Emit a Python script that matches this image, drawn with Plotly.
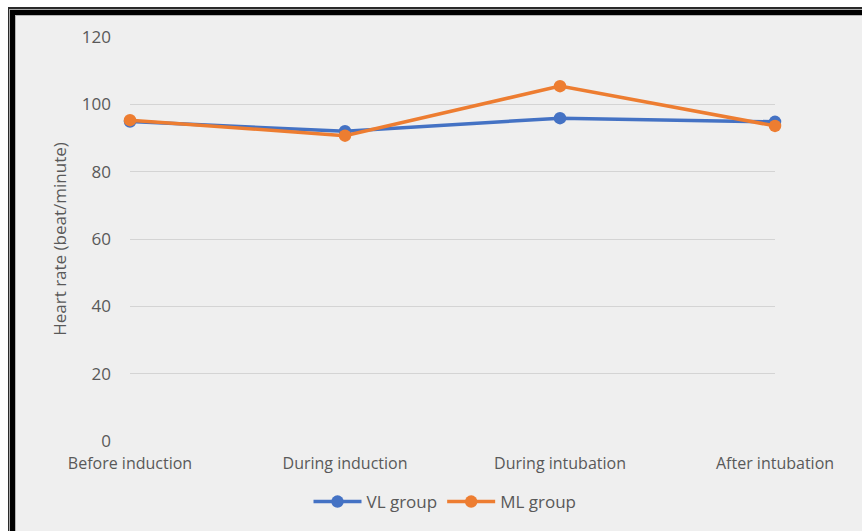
import plotly.graph_objects as go

categories = ["Before induction", "During induction", "During intubation", "After intubation"]
vl_group = [94.9, 92.0, 95.9, 94.8]
ml_group = [95.3, 90.7, 105.4, 93.6]
y_ticks = [0, 20, 40, 60, 80, 100, 120]

W, H = 862, 531
ML, MR, MT, MB = 130, 87, 37, 89
PW, PH = W - ML - MR, H - MT - MB


def px(x):
    return (x - ML) / PW


def py(y):
    return (H - MB - y) / PH


BLUE = "#4472C4"
ORANGE = "#ED7D31"
TXT = "#595959"

fig = go.Figure()
fig.add_trace(go.Scatter(
    x=categories, y=vl_group, name="VL group", mode="lines+markers",
    line=dict(color=BLUE, width=3.5), marker=dict(size=12.5, color=BLUE),
    cliponaxis=False,
))
fig.add_trace(go.Scatter(
    x=categories, y=ml_group, name="ML group", mode="lines+markers",
    line=dict(color=ORANGE, width=3.5), marker=dict(size=12.5, color=ORANGE),
    cliponaxis=False,
))

frame = [
    (8, 7, "#2a2a2a"),
    (9, 9, "#a8a8a8"),
    (10, 10, "#000000"),
    (15, 15, "#b5b5b5"),
    (16, 16, "#efefef"),
]
shapes = []
for x0, y0, col in frame:
    shapes.append(dict(
        type="rect", xref="paper", yref="paper", layer="below",
        x0=px(x0), x1=px(W + 20), y0=py(H + 20), y1=py(y0),
        fillcolor=col, line=dict(width=0),
    ))

fig.update_layout(
    width=W, height=H,
    margin=dict(l=ML, r=MR, t=MT, b=MB),
    paper_bgcolor="white",
    plot_bgcolor="rgba(0,0,0,0)",
    shapes=shapes,
    font=dict(family="Open Sans", color=TXT),
    showlegend=True,
    legend=dict(
        orientation="h", x=px(445), y=py(502), xanchor="center", yanchor="middle",
        font=dict(size=17, color=TXT, family="Open Sans"),
        bgcolor="rgba(0,0,0,0)", itemwidth=48, tracegroupgap=0,
    ),
    xaxis=dict(
        type="category", range=[0, 3], showgrid=False, zeroline=False,
        showline=False, ticks="", tickfont=dict(size=16, color=TXT),
        ticklabelstandoff=11, fixedrange=True,
    ),
    yaxis=dict(
        range=[0, 120], tickvals=y_ticks, showgrid=True, gridcolor="#d4d4d4",
        gridwidth=1, zeroline=False, showline=False, ticks="",
        tickfont=dict(size=17, color=TXT), ticklabelstandoff=18,
        title=dict(text="Heart rate (beat/minute)", font=dict(size=17, color=TXT), standoff=10),
    ),
)

fig.write_html("out.html")
